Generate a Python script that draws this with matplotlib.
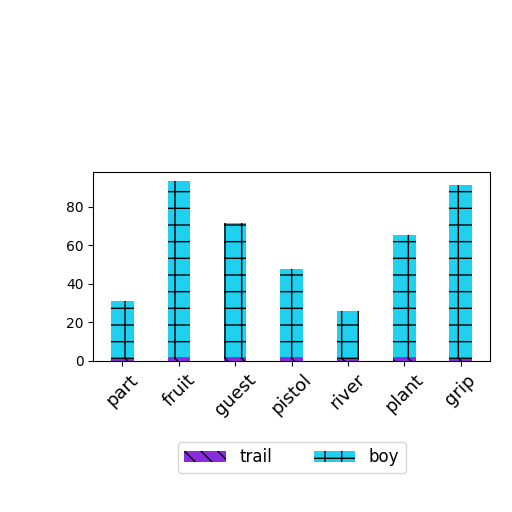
import numpy as np
import matplotlib.pyplot as plt

categories = ['part', 'fruit', 'guest', 'pistol', 'river', 'plant', 'grip']
trail = [1.0, 1.5, 1.5, 1.5, 1.0, 1.5, 1.0]
boy = [30, 92, 70, 46, 25, 64, 90]

x = np.arange(len(categories))

fig = plt.figure(figsize=(5.12, 5.12), dpi=100)
ax = fig.add_axes([0.182, 0.295, 0.775, 0.37])

ax.bar(x, trail, width=0.4, color='#8a2be2', hatch='\\\\', edgecolor='black',
       linewidth=0, label='trail')
ax.bar(x, boy, width=0.4, bottom=trail, color='#1fd0ef', hatch='+',
       edgecolor='black', linewidth=0, label='boy')

ax.set_xticks(x)
ax.set_xticklabels(categories, rotation=45, fontsize=13)
ax.tick_params(axis='y', labelsize=10)

fig.legend(loc='lower center', bbox_to_anchor=(0.57, 0.06), ncol=2,
           fontsize=12, handlelength=2.5, columnspacing=2.5)

fig.savefig('out.png', dpi=100)
